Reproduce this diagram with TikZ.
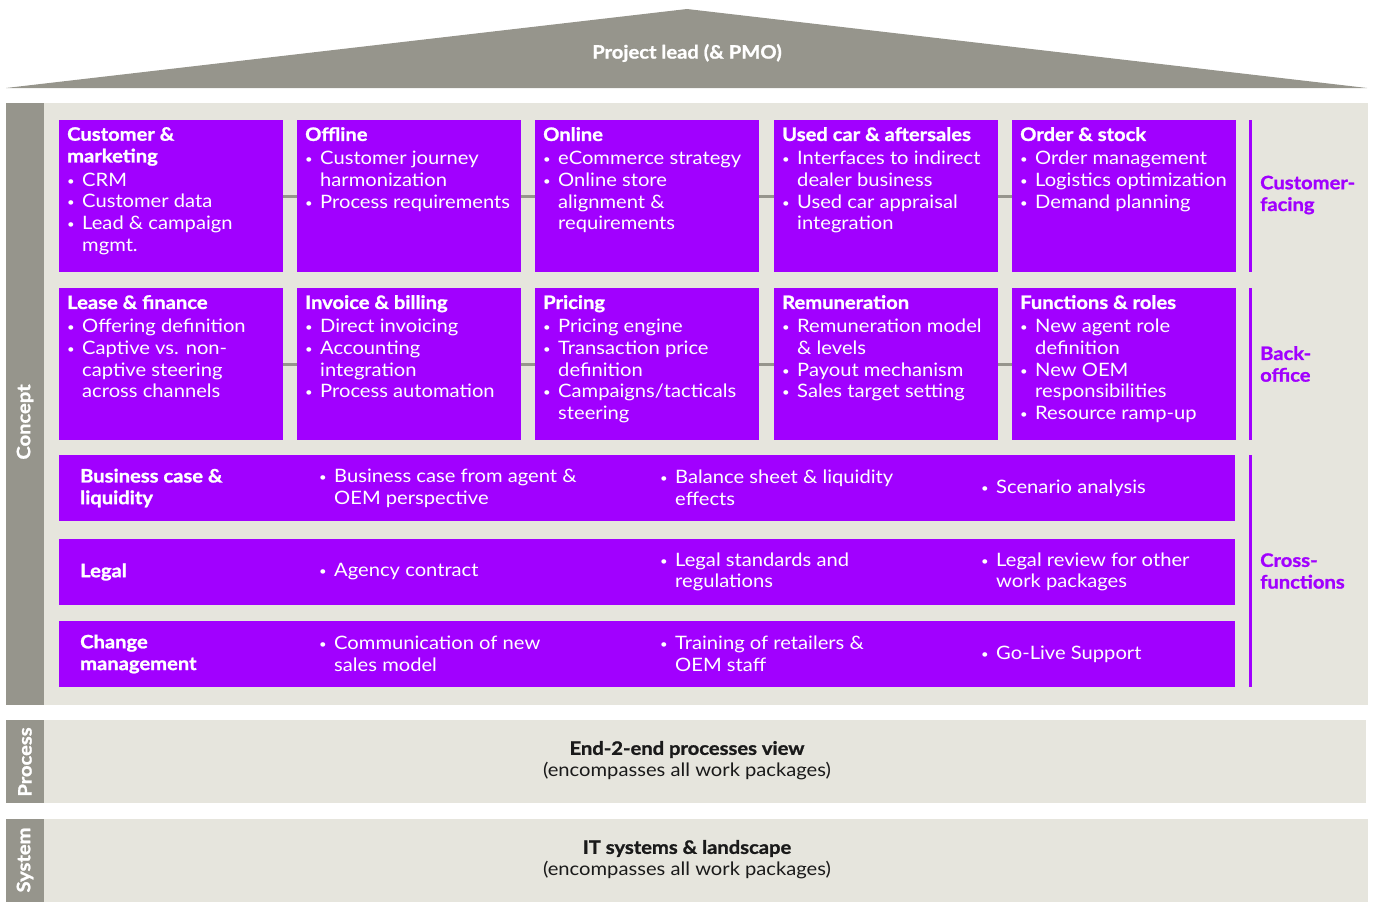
\documentclass[tikz,border=0pt]{standalone}
\usepackage{fontspec}
\setmainfont{Lato}[FakeStretch=1.09, BoldFeatures={FakeBold=1.2}]
\usepackage{xcolor}
\usepackage{tikz}
\usetikzlibrary{positioning}

\definecolor{acpurple}{HTML}{A100FF}
\definecolor{roofgray}{HTML}{96958C}
\definecolor{bandbeige}{HTML}{E6E5DD}
\definecolor{darktext}{HTML}{1A1A1A}

\newcommand{\bodyfont}{\fontsize{18.5}{21.7}\selectfont}
\newcommand{\wpitem}[1]{\makebox[15pt][l]{\hspace{0pt}\raisebox{1pt}{\fontsize{12}{12}\selectfont\textbullet}}#1}
\newcommand{\wpcont}{\hspace*{15pt}}
\newcommand{\wpbody}[2]{\parbox[t][144pt][t]{208pt}{\bodyfont\raggedright
    \vspace*{3pt}\textbf{#1}\par\vspace{2pt}#2}}

\begin{document}
\begin{tikzpicture}[x=1pt, y=-1pt,
    wpbox/.style = {
        rectangle,
        fill=acpurple,
        anchor=north west,
        minimum width=224pt,
        minimum height=152pt,
        inner xsep=8pt,
        inner ysep=4pt,
        text=white,
        align=left
    },
    wide/.style      = {rectangle, fill=acpurple, anchor=north west, minimum width=1176pt, minimum height=66pt, inner sep=0pt},
    widetext/.style  = {anchor=west, align=left, inner sep=0pt, text=white, font=\bodyfont},
    widetitle/.style = {widetext, font=\bodyfont\bfseries},
    sidelabel/.style = {anchor=west, align=left, inner sep=0pt, text=acpurple, font=\bodyfont\bfseries},
    tabtext/.style   = {rotate=90, text=white, font=\bodyfont\bfseries, inner sep=0pt},
    bandtext/.style  = {align=center, text=darktext, font=\bodyfont, inner sep=0pt},
    link/.style      = {line width=3pt, draw=roofgray},
    bracket/.style   = {line width=3pt, draw=acpurple}
]

\useasboundingbox (0,0) rectangle (1375,902);

% Roof
\fill[roofgray] (6,88) -- (687,9) -- (1367,88) -- cycle;
\node[font=\bodyfont\bfseries, text=white, inner sep=0pt] (lead) at (687,53) {Project lead (\& PMO)};

% Bands
\fill[bandbeige] (44,103) rectangle (1368,705);
\fill[roofgray]  (6,103)  rectangle (44,705);
\fill[bandbeige] (44,720) rectangle (1366,803);
\fill[roofgray]  (6,720)  rectangle (44,803);
\fill[bandbeige] (44,819) rectangle (1368,902);
\fill[roofgray]  (6,819)  rectangle (44,902);

\node[tabtext] (concept) at (25,422) {Concept};
\node[tabtext] (process) at (25,762) {Process};
\node[tabtext] (system)  at (25,860) {System};

% Row 1: customer-facing
\node[wpbox] (custmkt) at (59,120) {\wpbody{Customer \&\\marketing}{%
    \wpitem{CRM}\\
    \wpitem{Customer data}\\
    \wpitem{Lead \& campaign}\\\wpcont mgmt.}};

\node[wpbox] (offline) at (297,120) {\wpbody{Offline}{%
    \wpitem{Customer journey}\\\wpcont harmonization\\
    \wpitem{Process requirements}}};

\node[wpbox] (online) at (535,120) {\wpbody{Online}{%
    \wpitem{eCommerce strategy}\\
    \wpitem{Online store}\\\wpcont alignment \&\\\wpcont requirements}};

\node[wpbox] (usedcar) at (774,120) {\wpbody{Used car \& aftersales}{%
    \wpitem{Interfaces to indirect}\\\wpcont dealer business\\
    \wpitem{Used car appraisal}\\\wpcont integration}};

\node[wpbox] (orderstock) at (1012,120) {\wpbody{Order \& stock}{%
    \wpitem{Order management}\\
    \wpitem{Logistics optimization}\\
    \wpitem{Demand planning}}};

% Row 2: back-office
\node[wpbox] (lease) at (59,288) {\wpbody{Lease \& finance}{%
    \wpitem{Offering definition}\\
    \wpitem{Captive vs. non-}\\\wpcont captive steering\\\wpcont across channels}};

\node[wpbox] (invoice) at (297,288) {\wpbody{Invoice \& billing}{%
    \wpitem{Direct invoicing}\\
    \wpitem{Accounting}\\\wpcont integration\\
    \wpitem{Process automation}}};

\node[wpbox] (pricing) at (535,288) {\wpbody{Pricing}{%
    \wpitem{Pricing engine}\\
    \wpitem{Transaction price}\\\wpcont definition\\
    \wpitem{Campaigns/tacticals}\\\wpcont steering}};

\node[wpbox] (remun) at (774,288) {\wpbody{Remuneration}{%
    \wpitem{Remuneration model}\\\wpcont \& levels\\
    \wpitem{Payout mechanism}\\
    \wpitem{Sales target setting}}};

\node[wpbox] (roles) at (1012,288) {\wpbody{Functions \& roles}{%
    \wpitem{New agent role}\\\wpcont definition\\
    \wpitem{New OEM}\\\wpcont responsibilities\\
    \wpitem{Resource ramp-up}}};

% Links between boxes
\draw[link] (custmkt.east) -- (offline.west);
\draw[link] (offline.east) -- (online.west);
\draw[link] (online.east) -- (usedcar.west);
\draw[link] (usedcar.east) -- (orderstock.west);
\draw[link] (lease.east) -- (invoice.west);
\draw[link] (invoice.east) -- (pricing.west);
\draw[link] (pricing.east) -- (remun.west);
\draw[link] (remun.east) -- (roles.west);

% Rows 3-5: cross-functions
\node[wide] (bizcase) at (59,455) {};
\node[widetitle] (bizcaset) at (80,488) {Business case \&\\liquidity};
\node[widetext] (bizcase1) at (319,488) {\wpitem{Business case from agent \&}\\\wpcont OEM perspective};
\node[widetext] (bizcase2) at (660,488) {\wpitem{Balance sheet \& liquidity}\\\wpcont effects};
\node[widetext] (bizcase3) at (981,488) {\wpitem{Scenario analysis}};

\node[wide] (legal) at (59,539) {};
\node[widetitle] (legalt) at (80,572) {Legal};
\node[widetext] (legal1) at (319,572) {\wpitem{Agency contract}};
\node[widetext] (legal2) at (660,572) {\wpitem{Legal standards and}\\\wpcont regulations};
\node[widetext] (legal3) at (981,572) {\wpitem{Legal review for other}\\\wpcont work packages};

\node[wide] (change) at (59,621) {};
\node[widetitle] (changet) at (80,654) {Change\\management};
\node[widetext] (change1) at (319,654) {\wpitem{Communication of new}\\\wpcont sales model};
\node[widetext] (change2) at (660,654) {\wpitem{Training of retailers \&}\\\wpcont OEM staff};
\node[widetext] (change3) at (981,654) {\wpitem{Go-Live Support}};

% Side brackets and labels
\draw[bracket] (1250,120) -- (1250,272);
\draw[bracket] (1250,288) -- (1250,440);
\draw[bracket] (1250,455) -- (1250,687);
\node[sidelabel] (custfacing) at (1260,195) {Customer-\\facing};
\node[sidelabel] (backoffice) at (1260,364) {Back-\\office};
\node[sidelabel] (crossfunc)  at (1260,571) {Cross-\\functions};

% Bottom bands
\node[bandtext] (e2e) at (687,760.5) {\textbf{End-2-end processes view}\\(encompasses all work packages)};
\node[bandtext] (itsys) at (687,859.5) {\textbf{IT systems \& landscape}\\(encompasses all work packages)};

\end{tikzpicture}
\end{document}
